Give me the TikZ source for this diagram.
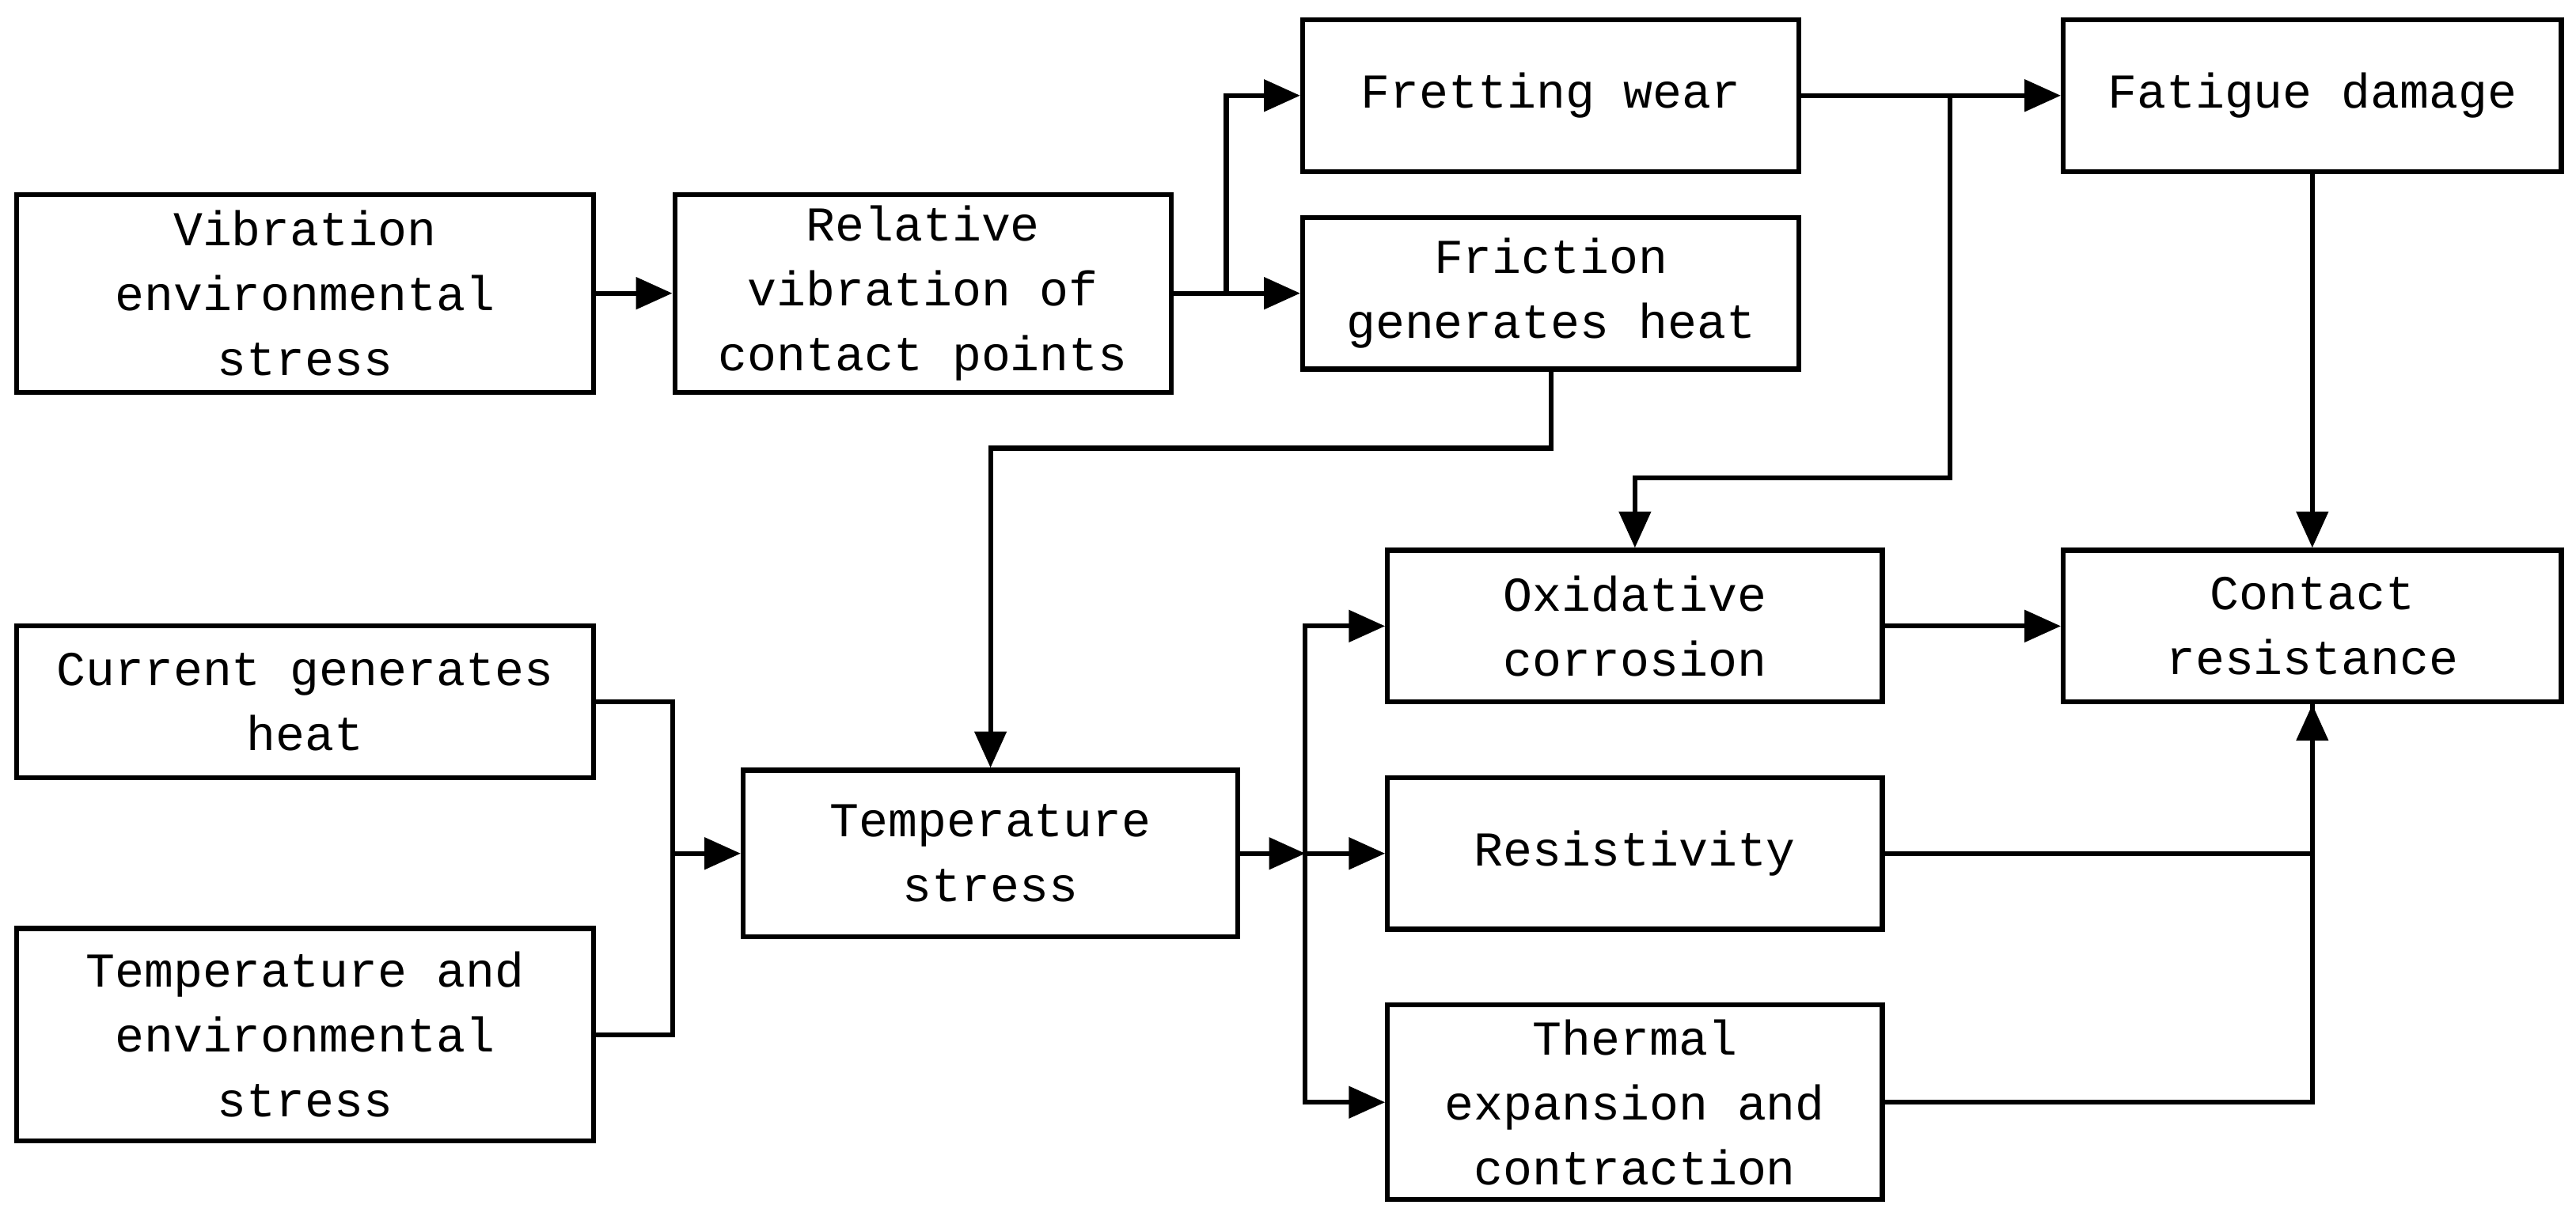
\documentclass[tikz,border=0pt]{standalone}
\usepackage{fontspec}
\setmainfont{Liberation Mono}
\usetikzlibrary{arrows.meta}
\tikzset{
	blk/.style={draw,line width=0.85pt,align=center,inner sep=0pt,
		font=\fontsize{8.4}{11.2}\selectfont},
	arr/.style={line width=0.85pt,-{Triangle[length=0.22cm,width=0.19cm]}},
	ln/.style={line width=0.85pt}
}
\begin{document}
\begin{tikzpicture}[x=0.01cm,y=-0.01cm]
		\useasboundingbox (0,0) rectangle (1563,740);
		\path
			 (185,178) node[blk,minimum width=3.5cm,minimum height=1.2cm]  (vib)    {Vibration\\environmental\\stress}
			 (560,178) node[blk,minimum width=3.01cm,minimum height=1.2cm] (rel)    {Relative\\vibration of\\contact points}
			 (941,58)  node[blk,minimum width=3.01cm,minimum height=0.92cm] (fret)  {Fretting wear}
			 (941,178) node[blk,minimum width=3.01cm,minimum height=0.92cm] (fric)  {Friction\\generates heat}
			(1403,58)  node[blk,minimum width=3.02cm,minimum height=0.92cm] (fat)   {Fatigue damage}
			 (185,426) node[blk,minimum width=3.5cm,minimum height=0.92cm]  (cur)   {Current generates\\heat}
			 (185,628) node[blk,minimum width=3.5cm,minimum height=1.29cm]  (tenv)  {Temperature and\\environmental\\stress}
			 (601,518) node[blk,minimum width=3.0cm,minimum height=1.01cm]  (tstr)  {Temperature\\stress}
			 (992,380) node[blk,minimum width=3.0cm,minimum height=0.92cm]  (oxid)  {Oxidative\\corrosion}
			 (992,518) node[blk,minimum width=3.0cm,minimum height=0.92cm]  (res)   {Resistivity}
			 (992,669) node[blk,minimum width=3.0cm,minimum height=1.18cm]  (therm) {Thermal\\expansion and\\contraction}
			(1403,380) node[blk,minimum width=3.02cm,minimum height=0.92cm] (cont)  {Contact\\resistance}
		;
		\coordinate (j1) at (744,178);
		\coordinate (j2) at (1183,58);
		\coordinate (j3) at (408,518);
		\coordinate (j4) at (792,518);
		\draw[arr] (vib)  -- (rel);
		\draw[arr] (rel)  -- (fric);
		\draw[arr] (j1)   |- (fret);
		\draw[arr] (fret) -- (fat);
		\draw[arr] (j2)   -- (1183,290) -| (oxid);
		\draw[arr] (fric) -- (941,272) -| (tstr);
		\draw[arr] (fat)  -- (cont);
		\draw[ln]  (cur)  -| (j3);
		\draw[ln]  (tenv) -| (j3);
		\draw[arr] (j3)   -- (tstr);
		\draw[arr] (tstr) -- (j4);
		\draw[arr] (j4)   -- (res);
		\draw[arr] (j4)   |- (oxid);
		\draw[arr] (j4)   |- (therm);
		\draw[arr] (oxid) -- (cont);
		\draw[ln]  (res)  -| (cont);
		\draw[arr] (therm) -| (cont);
	\end{tikzpicture}
\end{document}
